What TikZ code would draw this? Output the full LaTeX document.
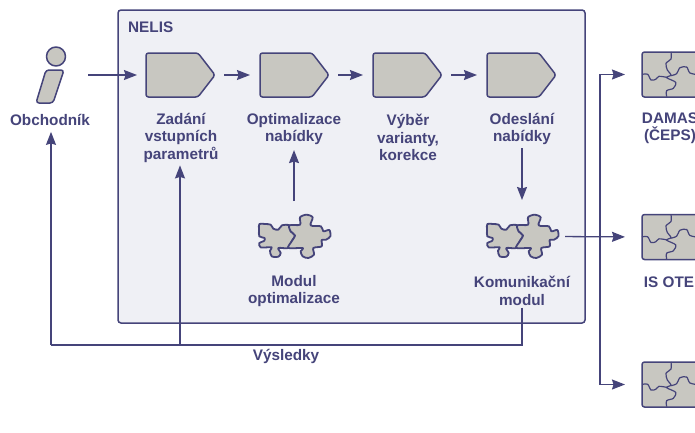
\documentclass[tikz,border=0pt]{standalone}
\usepackage{fontspec}
\setmainfont{Liberation Sans}
\usetikzlibrary{arrows.meta,calc}
\definecolor{ink}{HTML}{45447A}
\definecolor{panel}{HTML}{EFF0F5}
\definecolor{shape}{HTML}{C8C7C1}
\tikzset{
  x=1pt,y=-1pt,
  conn/.style={draw=ink,line width=1.3pt,-{Stealth[length=13pt,width=10pt,inset=1.5pt]}},
  plain/.style={draw=ink,line width=1.3pt},
  outl/.style={draw=ink,line width=1.5pt,fill=shape,line join=round},
  blob/.style={draw=ink,line width=1.8pt,fill=shape,line join=round},
  thin/.style={draw=ink,line width=1.2pt},
  holder/.style={inner sep=0pt,outer sep=0pt,minimum width=#1},
  lbl/.style={text=ink,font=\fontsize{15.3}{17.5}\selectfont\bfseries,align=center,inner sep=0pt},
}
\newcommand\pentagon[2]{%
  \node[holder=69pt,minimum height=44pt] (#1) at #2 {};
  \draw[outl,rounded corners=2.5pt] (#1.north west) -- ($(#1.north east)+(-17,0)$) -- (#1.east) -- ($(#1.south east)+(-17,0)$) -- (#1.south west) -- cycle;}
\newcommand\puzzlepair[2]{%
  \node[holder=70pt,minimum height=45pt] (#1) at #2 {};
  \begin{scope}[shift={(#1.north west)},shift={(-9,-6)},scale=1/3]
  \draw[blob] plot[smooth cycle,tension=.5] coordinates {(28,48)(45,48)(62,50)(70,62)(85,65)(96,52)(118,52)(122,70)(135,82)(125,100)(115,120)(85,120)(92,135)(85,146)(65,145)(60,128)(65,118)(32,118)(28,105)(42,99)(44,90)(28,85)(27,65)};
  \draw[blob] plot[smooth cycle,tension=.5] coordinates {(118,52)(150,50)(150,28)(170,20)(188,28)(182,52)(213,55)(220,70)(238,66)(241,85)(228,95)(215,96)(215,115)(190,120)(192,140)(175,150)(158,145)(152,130)(158,120)(115,120)(125,100)(135,82)(122,70)};
  \end{scope}}
\newcommand\puzzlerect[2]{%
  \node[holder=65pt,minimum height=45pt] (#1) at #2 {};
  \draw[outl,rounded corners=2.5pt] (#1.north west) rectangle (#1.south east);
  \begin{scope}[shift={(#1.north west)},shift={(-7,-7)},scale=1/3]
  \draw[thin] plot[smooth,tension=.5] coordinates {(108,21)(108,42)(93,55)(97,75)(108,90)(95,98)(122,112)(115,130)(95,137)(95,155)};
  \draw[thin] plot[smooth,tension=.5] coordinates {(21,88)(38,88)(48,105)(62,103)(72,94)(95,97)};
  \draw[thin] plot[smooth,tension=.5] coordinates {(108,92)(125,86)(135,68)(155,66)(165,84)(195,90)};
  \end{scope}}
\begin{document}
\begin{tikzpicture}
\clip (0,0) rectangle (695,432);
\fill[white] (0,0) rectangle (695,432);
\draw[plain,fill=panel,rounded corners=3pt,line width=1.5pt] (118,10) rectangle (585,323);
\node[lbl,anchor=west] (nelis) at (128,27) {NELIS};
% actor
\node[holder=42pt,minimum height=58pt] (actor) at (51,75) {};
\draw[outl] (56,56.5) circle (9.5);
\draw[outl,rounded corners=3pt] (46,70) -- (64,70) -- (53,103) -- (36,103) -- cycle;
\node[lbl] (obch) at (50,120) {Obchodník};
% process steps
\pentagon{s1}{(180.5,75)}
\pentagon{s2}{(294.5,75)}
\pentagon{s3}{(407.5,75)}
\pentagon{s4}{(521.5,75)}
\node[lbl] (t1) at (181,137.5) {Zadání\\vstupních\\parametrů};
\node[lbl] (t2) at (294,129) {Optimalizace\\nabídky};
\node[lbl] (t3) at (408,137.5) {Výběr\\varianty,\\korekce};
\node[lbl] (t4) at (522,129) {Odeslání\\nabídky};
% modules
\puzzlepair{m1}{(294,236.5)}
\puzzlepair{m2}{(522,236.5)}
\node[lbl] (t5) at (294,291) {Modul\\optimalizace};
\node[lbl] (t6) at (522,291) {Komunikační\\modul};
% external systems
\puzzlerect{e1}{(674.5,74.5)}
\puzzlerect{e2}{(674.5,237)}
\puzzlerect{e3}{(674.5,384.5)}
\node[lbl] (d1) at (670,128) {DAMAS\\(ČEPS)};
\node[lbl] (d2) at (669,282) {IS OTE};
\node[lbl] (res) at (286,356) {Výsledky};
% connectors
\coordinate (busL) at (51,345);
\coordinate (busT) at (180,345);
\coordinate (fork) at (600,236);
\draw[conn,shorten <=16pt,shorten >=9pt] (actor.east) -- (s1.west);
\draw[conn,shorten <=9pt,shorten >=10pt] (s1.east) -- (s2.west);
\draw[conn,shorten <=9pt,shorten >=10pt] (s2.east) -- (s3.west);
\draw[conn,shorten <=9pt,shorten >=10pt] (s3.east) -- (s4.west);
\draw[conn,shorten <=13pt] (m1.north) -- ($(t2.south)+(0,5)$);
\draw[conn,shorten <=3pt,shorten >=14pt] (t4.south) -- (m2.north);
\draw[conn,shorten <=8pt,shorten >=17pt] (m2.east) -- (e2.west);
\draw[conn] (fork) |- ($(e1.west)+(-17,0)$);
\draw[conn] (fork) |- ($(e3.west)+(-17,0)$);
\draw[plain,shorten <=2pt] (t6.south) |- (busL);
\draw[conn] (busL) -- ($(obch.south -| busL)+(0,6)$);
\draw[conn] (busT) -- ($(t1.south -| busT)+(0,3)$);
\end{tikzpicture}
\end{document}
